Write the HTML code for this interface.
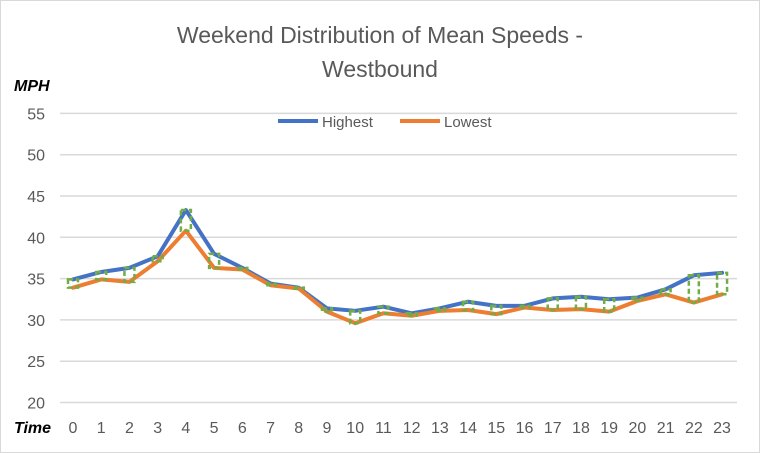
<!DOCTYPE html>
<html><head><style>
body{margin:0;background:#fff;}
svg{display:block;font-family:"Liberation Sans",sans-serif;}
</style></head><body>
<svg id="c" width="760" height="453" xmlns="http://www.w3.org/2000/svg">
<rect x="0.5" y="0.5" width="759" height="452" fill="#fff" stroke="#d9d9d9"/>
<text x="380" y="43" text-anchor="middle" font-size="23" fill="#595959">Weekend Distribution of Mean Speeds -</text>
<text x="380" y="77" text-anchor="middle" font-size="23" fill="#595959">Westbound</text>
<text x="14" y="91" font-size="16" font-weight="bold" font-style="italic" fill="#000">MPH</text>
<text x="14" y="433" font-size="16" font-weight="bold" font-style="italic" fill="#000">Time</text>
<line x1="278" y1="121" x2="318" y2="121" stroke="#4472c4" stroke-width="4"/>
<text x="322" y="127" font-size="15" fill="#595959">Highest</text>
<line x1="400" y1="121" x2="440" y2="121" stroke="#ed7d31" stroke-width="4"/>
<text x="444" y="127" font-size="15" fill="#595959">Lowest</text>
<g id="g"></g>
</svg>
<script>
var hi=[34.9,35.8,36.3,37.7,43.3,38,36.3,34.4,33.9,31.4,31.1,31.6,30.8,31.4,32.2,31.7,31.7,32.6,32.8,32.5,32.7,33.7,35.4,35.7];
var lo=[33.9,34.9,34.6,37.1,40.8,36.3,36.1,34.2,33.8,31.0,29.6,30.8,30.5,31.1,31.2,30.7,31.5,31.2,31.3,31.0,32.3,33.1,32.1,33.1];
function X(i){return 73+i*28.22;}function Y(v){return 402.5-(v-20)*8.26;}
var s='';
for(var v=20;v<=55;v+=5){var y=Y(v);s+='<line x1="60" x2="737" y1="'+y+'" y2="'+y+'" stroke="#d9d9d9" stroke-width="1.5"/>';
s+='<text x="45" y="'+(y+6)+'" text-anchor="end" font-size="16" fill="#595959">'+v+'</text>';}
for(var i=0;i<24;i++){s+='<text x="'+X(i)+'" y="433" text-anchor="middle" font-size="16" fill="#595959">'+i+'</text>';}
function pl(a,c){var p=a.map(function(v,i){return X(i)+','+Y(v)}).join(' ');return '<polyline points="'+p+'" fill="none" stroke="'+c+'" stroke-width="4" stroke-linejoin="round" stroke-linecap="round"/>';}
s+=pl(hi,'#4472c4')+pl(lo,'#ed7d31');
for(var i=0;i<24;i++){var a=Y(hi[i]),b=Y(lo[i]);var t=Math.min(a,b),h=Math.abs(a-b);
s+='<rect x="'+(X(i)-5)+'" y="'+t+'" width="10" height="'+h+'" fill="none" stroke="#70ad47" stroke-width="2.5" stroke-dasharray="5,3"/>';}
document.getElementById('g').innerHTML=s;
</script>
</body></html>
